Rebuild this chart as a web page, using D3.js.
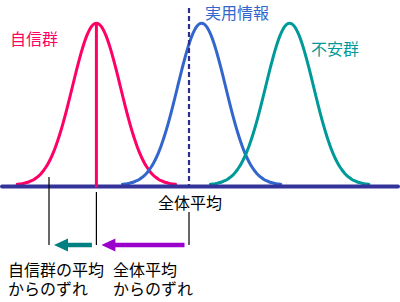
<!DOCTYPE html>
<html>
<head>
<meta charset="utf-8">
<script src="https://cdn.jsdelivr.net/npm/d3@7"></script>
<style>
  html, body { margin: 0; padding: 0; background: #fff; }
  svg text { font-family: "Noto Sans CJK JP", sans-serif; font-size: 16px; }
</style>
</head>
<body>
<svg id="chart" width="400" height="302"></svg>
<script>
// Three group score distributions against the overall mean
const groups = ["自信群", "実用情報", "不安群"];
const groupMeans = [24.1, 50.4, 72.4];
const groupSigma = [6, 6, 6];
const groupColors = ["#ff0066", "#3366cc", "#009999"];
const overallMean = 47.25;
const individualScore = 12.25;
const overallLabel = "全体平均";
const deviationLabels = [["自信群の平均", "からのずれ"], ["全体平均", "からのずれ"]];

const svg = d3.select("#chart");
const x = d3.scaleLinear().domain([0, 100]).range([0, 400]);
const y = d3.scaleLinear().domain([0, 1]).range([185, 23]);
const axisY = 186.5;

// normal density curves, peak scaled to 1
const line = d3.line().x(d => x(d[0])).y(d => y(d[1])).curve(d3.curveBasis);
groups.forEach((g, i) => {
  const m = groupMeans[i], s = groupSigma[i];
  const pts = d3.range(-3.3, 3.3001, 0.1).map(z => [m + z * s, Math.exp(-z * z / 2)]);
  svg.append("path")
    .attr("d", line(pts))
    .attr("fill", "none")
    .attr("stroke", groupColors[i])
    .attr("stroke-width", 3)
    .attr("stroke-linecap", "round");
});

// baseline
svg.append("line")
  .attr("x1", 2).attr("x2", 398)
  .attr("y1", axisY).attr("y2", axisY)
  .attr("stroke", "#333399").attr("stroke-width", 4)
  .attr("stroke-linecap", "round");

// overall mean marker
svg.append("line")
  .attr("x1", x(overallMean)).attr("x2", x(overallMean))
  .attr("y1", 8).attr("y2", axisY)
  .attr("stroke", "#2e2e8a").attr("stroke-width", 2.2)
  .attr("stroke-dasharray", "5,3");

// mean of the confident group
svg.append("line")
  .attr("x1", x(groupMeans[0])).attr("x2", x(groupMeans[0]))
  .attr("y1", y(1)).attr("y2", axisY + 1)
  .attr("stroke", groupColors[0]).attr("stroke-width", 3);

// group labels
const labelPos = [[10, 38], [205, 12], [311, 48]];
groups.forEach((g, i) => {
  svg.append("text")
    .attr("x", labelPos[i][0]).attr("y", labelPos[i][1])
    .attr("dominant-baseline", "central")
    .attr("fill", groupColors[i])
    .text(g);
});

svg.append("text")
  .attr("x", x(overallMean) + 1).attr("y", 202)
  .attr("text-anchor", "middle")
  .attr("dominant-baseline", "central")
  .attr("fill", "#000")
  .text(overallLabel);

// reference ticks under the baseline
const arrowY = 245;
[[individualScore, 177], [groupMeans[0], 192], [overallMean, 212]].forEach(([v, top]) => {
  svg.append("line")
    .attr("x1", x(v)).attr("x2", x(v))
    .attr("y1", top).attr("y2", arrowY)
    .attr("stroke", "#000").attr("stroke-width", 1.2);
});

// deviation arrows (pointing left)
function arrow(fromV, toV, color) {
  const x0 = x(fromV) - 4.5, x1 = x(toV) + 5;
  const headLen = 14, headHalf = 6.5;
  svg.append("line")
    .attr("x1", x0).attr("x2", x1 + headLen - 1)
    .attr("y1", arrowY).attr("y2", arrowY)
    .attr("stroke", color).attr("stroke-width", 4.5);
  svg.append("path")
    .attr("d", `M${x1},${arrowY} L${x1 + headLen},${arrowY - headHalf} L${x1 + headLen},${arrowY + headHalf} Z`)
    .attr("fill", color);
}
arrow(groupMeans[0], individualScore, "#008080");
arrow(overallMean, groupMeans[0], "#9900cc");

// explanatory captions, two lines each
const captionX = [8, 113];
deviationLabels.forEach((lines, i) => {
  const t = svg.append("text")
    .attr("x", captionX[i]).attr("y", 269)
    .attr("fill", "#000");
  lines.forEach((s, j) => {
    t.append("tspan")
      .attr("x", captionX[i])
      .attr("y", 269 + j * 19)
      .attr("dominant-baseline", "central")
      .text(s);
  });
});
</script>
</body>
</html>
